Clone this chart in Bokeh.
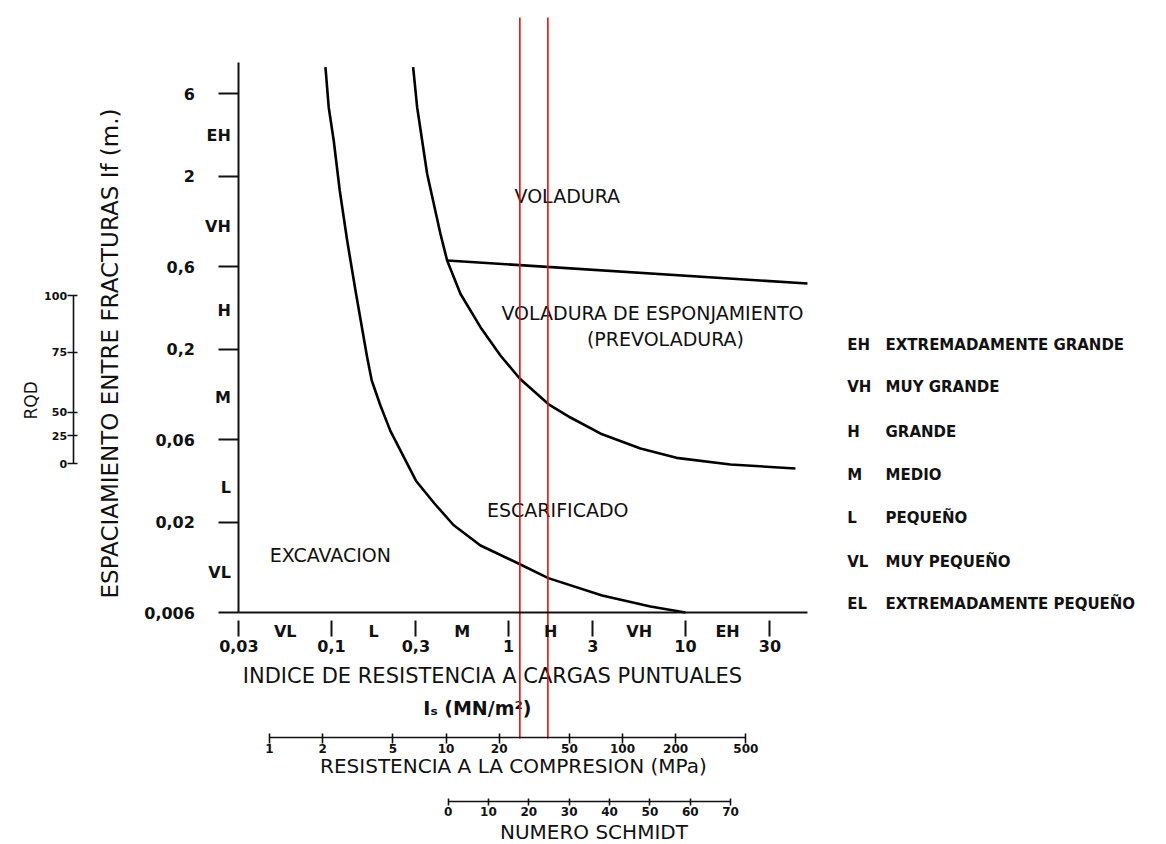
import numpy as np
from bokeh.plotting import figure
from bokeh.models import (Range1d, LogAxis, LinearAxis, FixedTicker,
                          CustomJSTickFormatter, LogScale, LinearScale)
from bokeh.core.properties import value
from bokeh.embed import file_html
from bokeh.resources import INLINE

# ---------------- data ----------------
is_ticks = [0.03, 0.1, 0.3, 1, 3, 10, 30]
is_tick_labels = ["0,03", "0,1", "0,3", "1", "3", "10", "30"]
is_classes = ["VL", "L", "M", "H", "VH", "EH"]
is_class_pos = [0.0548, 0.173, 0.548, 1.73, 5.48, 17.3]

spacing_ticks = [0.006, 0.02, 0.06, 0.2, 0.6, 2, 6]
spacing_tick_labels = ["0,006", "0,02", "0,06", "0,2", "0,6", "2", "6"]
spacing_classes = ["VL", "L", "M", "H", "VH", "EH"]
spacing_class_pos = [0.0102, 0.0317, 0.105, 0.334, 1.016, 3.43]

rqd_labels = ["0", "25", "50", "75", "100"]
rqd_spacing = [0.0434, 0.0632, 0.0863, 0.192, 0.407]

ucs_ticks = [1, 2, 5, 10, 20, 50, 100, 200, 500]
ucs_tick_labels = ["1", "2", "5", "10", "20", "50", "100", "200", "500"]
schmidt_ticks = [0, 10, 20, 30, 40, 50, 60, 70]

# excavation / ripping boundary
excav_is = [0.0925, 0.0965, 0.103, 0.1114, 0.1227, 0.1367, 0.1591, 0.1689,
            0.1891, 0.2152, 0.3017, 0.382, 0.4891, 0.695, 1.169, 1.679,
            3.383, 6.34, 10.0]
excav_s = [8.52, 5.00, 3.21, 1.65, 0.848, 0.436, 0.1794, 0.1316,
           0.0943, 0.0673, 0.0344, 0.0256, 0.01923, 0.01464, 0.01137, 0.00948,
           0.00752, 0.0065, 0.006]
# ripping / blasting boundary
blast_is = [0.2894, 0.3049, 0.3472, 0.4127, 0.4504, 0.5355, 0.6948, 0.9012,
            1.157, 1.679, 2.240, 3.383, 5.57, 8.90, 17.96, 41.8]
blast_s = [8.52, 5.00, 2.061, 0.9273, 0.650, 0.4174, 0.2676, 0.1836,
           0.1351, 0.0962, 0.0804, 0.0643, 0.0532, 0.0470, 0.0430, 0.0408]
# blasting / pre-blasting boundary
preblast_is = [0.4504, 48.9]
preblast_s = [0.650, 0.4786]

# red marker lines (Is)
red_is = [1.16, 1.67]

legend_codes = ["EH", "VH", "H", "M", "L", "VL", "EL"]
legend_names = ["EXTREMADAMENTE GRANDE", "MUY GRANDE", "GRANDE", "MEDIO",
                "PEQUEÑO", "MUY PEQUEÑO", "EXTREMADAMENTE PEQUEÑO"]

region_text = ["VOLADURA", "VOLADURA DE ESPONJAMIENTO", "(PREVOLADURA)",
               "ESCARIFICADO", "EXCAVACION"]

# ---------------- figure ----------------
W, H = 1166, 844
p = figure(width=W, height=H, x_axis_type="log", y_axis_type="log",
           x_range=Range1d(0.00135, 5220), y_range=Range1d(2.736e-4, 20.69),
           x_axis_location=None, y_axis_location=None,
           toolbar_location=None, output_backend="svg", min_border=0)
p.outline_line_color = None
p.background_fill_color = "white"
p.border_fill_color = "white"
for g in p.grid:
    g.visible = False

p.extra_x_ranges = {"ucs": Range1d(0.02991, 120800), "sch": Range1d(-110.9, 178.0)}
p.extra_x_scales = {"ucs": LogScale(), "sch": LinearScale()}

INK = "#111111"
FONT = "DejaVu Sans"


def fmt(vals, labels):
    return CustomJSTickFormatter(args=dict(tv=list(map(float, vals)), tl=labels), code="""
        for (let i = 0; i < tv.length; i++) {
            if (Math.abs(tv[i] - tick) <= 1e-9 * Math.max(1, Math.abs(tv[i]))) return tl[i];
        }
        return '';
    """)


def style(ax, size="16px", bold=True, line=True, tick_out=0, tick_in=0, standoff=2, lw=2):
    ax.axis_line_color = INK if line else None
    ax.axis_line_width = lw
    ax.major_tick_line_color = INK if (tick_out or tick_in) else None
    ax.major_tick_line_width = lw
    ax.major_tick_out = tick_out
    ax.major_tick_in = tick_in
    ax.minor_tick_line_color = None
    ax.major_label_text_font = FONT
    ax.major_label_text_font_size = size
    ax.major_label_text_font_style = "bold" if bold else "normal"
    ax.major_label_text_color = INK
    ax.major_label_standoff = standoff


# main x axis line
ax_line = LogAxis(fixed_location=0.006, bounds=(0.03, 48.9), ticker=FixedTicker(ticks=[]))
style(ax_line, line=True)
p.add_layout(ax_line, "below")

# x ticks + numbers (ticks detached just below the line)
ax_xt = LogAxis(fixed_location=0.00536, ticker=FixedTicker(ticks=is_ticks),
                formatter=fmt(is_ticks, is_tick_labels))
style(ax_xt, line=False, tick_out=16, standoff=3)
p.add_layout(ax_xt, "below")

# x class letters
ax_xc = LogAxis(fixed_location=0.006, ticker=FixedTicker(ticks=is_class_pos),
                formatter=fmt(is_class_pos, is_classes))
style(ax_xc, line=False, standoff=9)
p.add_layout(ax_xc, "below")

# main y axis
ax_y = LogAxis(fixed_location=0.03, bounds=(0.006, 9.1), ticker=FixedTicker(ticks=spacing_ticks),
               formatter=fmt(spacing_ticks, spacing_tick_labels))
style(ax_y, line=True, tick_out=20, standoff=24)
p.add_layout(ax_y, "left")

# y class letters
ax_yc = LogAxis(fixed_location=0.03, ticker=FixedTicker(ticks=spacing_class_pos),
                formatter=fmt(spacing_class_pos, spacing_classes))
style(ax_yc, line=False, standoff=8)
p.add_layout(ax_yc, "left")

# RQD scale
ax_rqd = LogAxis(fixed_location=0.00347, bounds=(rqd_spacing[0], rqd_spacing[-1]),
                 ticker=FixedTicker(ticks=rqd_spacing), formatter=fmt(rqd_spacing, rqd_labels))
style(ax_rqd, size="11px", line=True, tick_out=6, tick_in=4, standoff=0, lw=1.6)
p.add_layout(ax_rqd, "left")

# compressive strength scale
ax_ucs = LogAxis(x_range_name="ucs", fixed_location=0.001132, bounds=(1, 500),
                 ticker=FixedTicker(ticks=ucs_ticks), formatter=fmt(ucs_ticks, ucs_tick_labels))
style(ax_ucs, size="12px", line=True, tick_out=6, tick_in=4, standoff=0, lw=1.6)
p.add_layout(ax_ucs, "below")

# Schmidt scale
ax_sch = LinearAxis(x_range_name="sch", fixed_location=0.000482, bounds=(0, 70),
                    ticker=FixedTicker(ticks=schmidt_ticks),
                    formatter=fmt(schmidt_ticks, [str(v) for v in schmidt_ticks]))
style(ax_sch, size="12px", line=True, tick_out=4, tick_in=3, standoff=1, lw=1.6)
p.add_layout(ax_sch, "below")

# ---------------- curves ----------------
p.line(excav_is, excav_s, line_color="black", line_width=2.6, line_join="round")
p.line(blast_is, blast_s, line_color="black", line_width=2.6, line_join="round")
p.line(preblast_is, preblast_s, line_color="black", line_width=2.6)

# ---------------- texts ----------------
def txt(x, y, t, size, align="center", bold=False, angle=0.0):
    p.text(x=x, y=y, text=t, text_font=value(FONT), text_font_size=size,
           text_font_style="bold" if bold else "normal", text_color=INK,
           text_align=align, text_baseline="middle", angle=angle)

txt([2.15, 6.51, 7.71, 1.90, 0.0987], [1.54, 0.325, 0.230, 0.0235, 0.01285],
    region_text, "19px")

# axis titles
txt([0.812], [0.00256], ["INDICE DE RESISTENCIA A CARGAS PUNTUALES"], "21px")
txt([0.668], [0.001694], ["Iₛ (MN/m²)"], "19px", bold=True)
txt([1.067], [0.000783], ["RESISTENCIA A LA COMPRESION (MPa)"], "20px")
txt([3.04], [0.000321], ["NUMERO SCHMIDT"], "20px")
txt([0.00564], [0.1885], ["ESPACIAMIENTO ENTRE FRACTURAS If (m.)"], "23px", angle=np.pi / 2)
txt([0.00201], [0.101], ["RQD"], "17px", angle=np.pi / 2)

# legend on the right
leg_y = [0.2097, 0.1203, 0.06612, 0.03717, 0.02097, 0.01172, 0.006739]
txt([82.0] * 7, leg_y, legend_codes, "15px", align="left", bold=True)
txt([135.0] * 7, leg_y, legend_names, "15px", align="left", bold=True)

# red lines
p.segment(x0=red_is, y0=[16.5] * 2, x1=red_is, y1=[0.001122] * 2,
          line_color="#e3120b", line_width=1.6)

open("out.html", "w").write(file_html(p, INLINE))
